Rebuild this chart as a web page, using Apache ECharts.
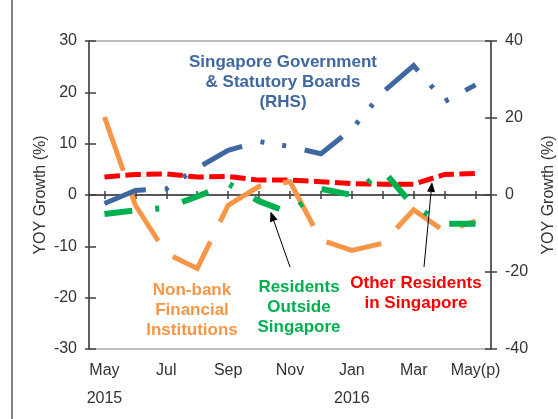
<!DOCTYPE html>
<html>
<head>
<meta charset="utf-8">
<script src="https://cdn.jsdelivr.net/npm/echarts/dist/echarts.min.js"></script>
<style>
html, body { margin: 0; padding: 0; background: #fff; }
#main { width: 558px; height: 419px; }
</style>
</head>
<body>
<div id="main"></div>
<script>
// months, May 2015 .. May 2016 (p = preliminary)
var categories = ['May', 'Jun', 'Jul', 'Aug', 'Sep', 'Oct', 'Nov', 'Dec', 'Jan', 'Feb', 'Mar', 'Apr', 'May(p)'];
var yearLabels = ['2015', '', '', '', '', '', '', '', '2016', '', '', '', ''];

// YOY growth (%)
var govBoards = [-2.2, 1.2, 1.6, 7.0, 11.6, 13.9, 12.6, 10.7, 17.1, 26.7, 33.6, 24.3, 28.6];   // RHS
var nonBank = [15.2, -2.0, -11.4, -14.3, -2.0, 1.7, 2.6, -8.8, -10.8, -9.4, -2.9, -7.1, -5.1];
var residentsOutside = [-3.7, -3.0, -2.5, -0.3, 2.2, -1.2, -3.5, 1.2, 0.0, 4.8, -2.2, -5.6, -5.6];
var otherResidents = [3.5, 4.0, 4.1, 3.5, 3.6, 2.9, 2.9, 2.6, 2.2, 2.1, 2.1, 4.0, 4.2];

var FONT = "'Liberation Sans', Arial, sans-serif";
var axisColor = '#404040';
var textColor = '#333333';

var blue = '#3F67A0';
var orange = '#F79646';
var green = '#00B050';
var red = '#FF0000';

// only the zero gridline is visible
var zeroLine = ['transparent', 'transparent', 'transparent', '#808080', 'transparent', 'transparent', 'transparent'];

var lineSeries = function(name, data, color, width, dash, yIdx) {
    return {
        name: name,
        type: 'line',
        data: data,
        yAxisIndex: yIdx,
        symbol: 'none',
        lineStyle: { color: color, width: width, type: dash, cap: 'butt', join: 'miter' }
    };
};

var note = function(x, y, text, color) {
    return {
        type: 'text', x: x, y: y, z: 100,
        style: { text: text, fill: color, font: 'bold 17px ' + FONT, align: 'center', verticalAlign: 'top', lineHeight: 20 }
    };
};

// thin black arrow, tail -> tip
var arrow = function(x1, y1, x2, y2) {
    var dx = x2 - x1, dy = y2 - y1;
    var len = Math.sqrt(dx * dx + dy * dy);
    var ux = dx / len, uy = dy / len;
    var hl = 10, hw = 4;
    var bx = x2 - ux * hl, by = y2 - uy * hl;
    return [
        { type: 'line', z: 100, shape: { x1: x1, y1: y1, x2: bx, y2: by }, style: { stroke: '#000', lineWidth: 1 } },
        { type: 'polygon', z: 100, shape: { points: [[x2, y2], [bx - uy * hw, by + ux * hw], [bx + uy * hw, by - ux * hw]] }, style: { fill: '#000' } }
    ];
};

var tickStyle = { color: axisColor, width: 1.5 };
var labelStyle = { color: textColor, fontSize: 16, fontFamily: FONT };

var myChart = echarts.init(document.getElementById('main'));
var option = {
    animation: false,
    backgroundColor: '#fff',
    grid: {
        left: 89, right: 67, top: 41, bottom: 70,
        outerBoundsMode: 'none',
        containLabel: false,
        show: true, borderColor: '#808080', borderWidth: 1
    },
    xAxis: [{
        type: 'category',
        data: categories,
        position: 'bottom',
        boundaryGap: true,
        axisLine: { show: true, lineStyle: tickStyle },
        axisTick: { show: true, alignWithLabel: true, interval: 0, length: 4, lineStyle: tickStyle },
        axisLabel: {
            interval: 1, margin: 8, lineHeight: 28,
            color: textColor, fontSize: 16, fontFamily: FONT,
            formatter: function(v, i) {
                return yearLabels[i] ? v + '\n' + yearLabels[i] : v;
            }
        },
        splitLine: { show: false }
    }, {
        // inner half of the crossing ticks
        type: 'category',
        data: categories,
        position: 'bottom',
        boundaryGap: true,
        axisLine: { show: false },
        axisTick: { show: true, inside: true, alignWithLabel: true, interval: 0, length: 4, lineStyle: tickStyle },
        axisLabel: { show: false },
        splitLine: { show: false }
    }],
    yAxis: [{
        type: 'value', min: -30, max: 30, interval: 10, position: 'left',
        name: 'YOY Growth (%)', nameLocation: 'middle', nameGap: 40, nameRotate: 90,
        nameMoveOverlap: false,
        nameTextStyle: labelStyle,
        axisLine: { show: true, lineStyle: tickStyle },
        axisTick: { show: true, length: 4, lineStyle: tickStyle },
        axisLabel: { color: textColor, fontSize: 16, fontFamily: FONT, margin: 12 },
        splitLine: { show: true, lineStyle: { color: zeroLine, width: 1.5 } }
    }, {
        type: 'value', min: -40, max: 40, interval: 20, position: 'right',
        name: 'YOY Growth (%)', nameLocation: 'middle', nameGap: 50, nameRotate: 90,
        nameTextStyle: labelStyle,
        axisLine: { show: true, lineStyle: tickStyle },
        axisTick: { show: true, length: 6, lineStyle: tickStyle },
        axisLabel: { color: textColor, fontSize: 16, fontFamily: FONT, margin: 14 },
        splitLine: { show: false }
    }, {
        type: 'value', min: -30, max: 30, interval: 10, position: 'left',
        axisLine: { show: false },
        axisTick: { show: true, inside: true, length: 7, lineStyle: tickStyle },
        axisLabel: { show: false },
        splitLine: { show: false }
    }, {
        type: 'value', min: -40, max: 40, interval: 20, position: 'right',
        axisLine: { show: false },
        axisTick: { show: true, inside: true, length: 6, lineStyle: tickStyle },
        axisLabel: { show: false },
        splitLine: { show: false }
    }],
    series: [
        lineSeries('Other Residents in Singapore', otherResidents, red, 5, [15.5, 5.5], 0),
        lineSeries('Non-bank Financial Institutions', nonBank, orange, 5, [57, 22], 0),
        lineSeries('Residents Outside Singapore', residentsOutside, green, 6, [28, 23, 4, 24], 0),
        lineSeries('Singapore Government & Statutory Boards (RHS)', govBoards, blue, 5, [44, 19, 4, 18, 4, 19], 1)
    ],
    graphic: [
        // outer chart frame edge
        { type: 'line', shape: { x1: 12, y1: 0, x2: 12, y2: 419 }, style: { stroke: '#595959', lineWidth: 1.5 } },
        note(283, 52, 'Singapore Government\n& Statutory Boards\n(RHS)', blue),
        note(192, 280, 'Non-bank\nFinancial\nInstitutions', orange),
        note(299, 277, 'Residents\nOutside\nSingapore', green),
        note(416, 273, 'Other Residents\nin Singapore', red)
    ].concat(arrow(290, 267, 270.5, 211.5)).concat(arrow(424, 267, 432, 182))
};
myChart.setOption(option);
</script>
</body>
</html>
